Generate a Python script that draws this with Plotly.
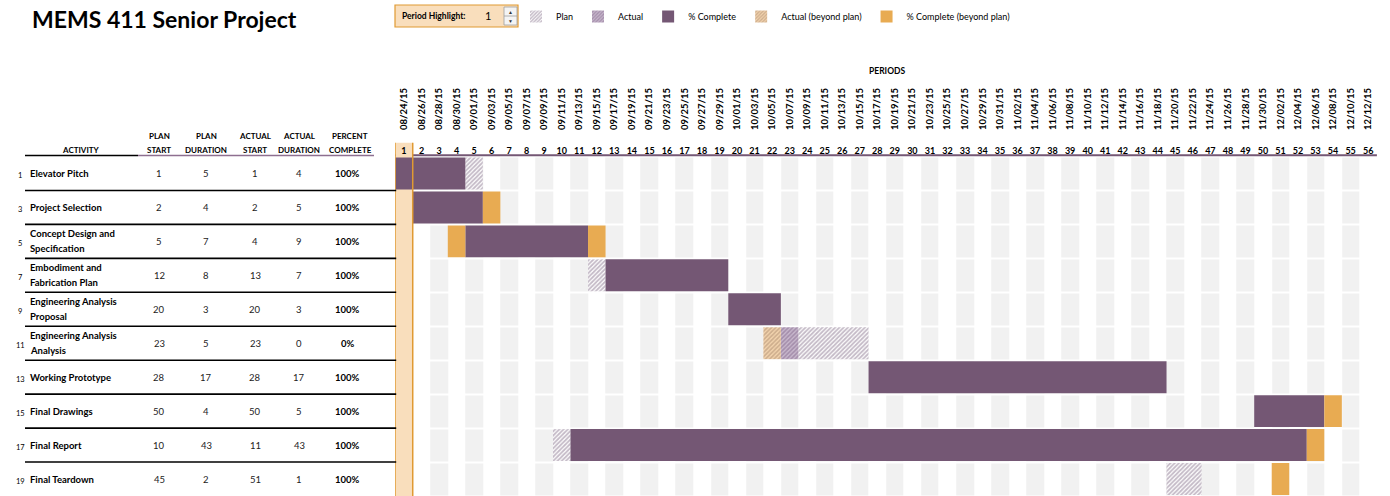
import plotly.graph_objects as go

# ---------------- data ----------------
activities = ["Elevator Pitch", "Project Selection", "Concept Design and<br>Specification",
              "Embodiment and<br>Fabrication Plan", "Engineering Analysis<br>Proposal",
              "Engineering Analysis<br>Analysis", "Working Prototype", "Final Drawings",
              "Final Report", "Final Teardown"]
row_numbers = [1, 3, 5, 7, 9, 11, 13, 15, 17, 19]
plan_start = [1, 2, 5, 12, 20, 23, 28, 50, 10, 45]
plan_duration = [5, 4, 7, 8, 3, 5, 17, 4, 43, 2]
actual_start = [1, 2, 4, 13, 20, 23, 28, 50, 11, 51]
actual_duration = [4, 5, 9, 7, 3, 0, 17, 5, 43, 1]
percent_complete = [100, 100, 100, 100, 100, 0, 100, 100, 100, 100]

periods = list(range(1, 57))
period_dates = ["08/24/15", "08/26/15", "08/28/15", "08/30/15", "09/01/15", "09/03/15", "09/05/15",
                "09/07/15", "09/09/15", "09/11/15", "09/13/15", "09/15/15", "09/17/15", "09/19/15",
                "09/21/15", "09/23/15", "09/25/15", "09/27/15", "09/29/15", "10/01/15", "10/03/15",
                "10/05/15", "10/07/15", "10/09/15", "10/11/15", "10/13/15", "10/15/15", "10/17/15",
                "10/19/15", "10/21/15", "10/23/15", "10/25/15", "10/27/15", "10/29/15", "10/31/15",
                "11/02/15", "11/04/15", "11/06/15", "11/08/15", "11/10/15", "11/12/15", "11/14/15",
                "11/16/15", "11/18/15", "11/20/15", "11/22/15", "11/24/15", "11/26/15", "11/28/15",
                "11/30/15", "12/02/15", "12/04/15", "12/06/15", "12/08/15", "12/10/15", "12/12/15"]
highlight_period = 1

# visible bar segments per legend category: (row, first period, number of periods)
plan_rows = [0, 3, 5, 8, 9]
plan_from = [5, 12, 24, 10, 45]
plan_len = [1, 1, 4, 1, 2]

actual_rows = [5]
actual_from = [23]
actual_len = [1]

complete_rows = [0, 1, 2, 3, 4, 6, 7, 8]
complete_from = [1, 2, 5, 13, 20, 28, 50, 11]
complete_len = [4, 4, 7, 7, 3, 17, 4, 42]

actual_beyond_rows = [5]
actual_beyond_from = [22]
actual_beyond_len = [1]

complete_beyond_rows = [1, 2, 2, 7, 8, 9]
complete_beyond_from = [6, 4, 12, 54, 53, 51]
complete_beyond_len = [1, 1, 1, 1, 1, 1]

# ---------------- styling ----------------
W, H = 1390, 496
FONT = "Lato"
PURPLE = "#745774"
ORANGE = "#E8AB52"
TAN = "#F9DEBC"
ORANGE_LINE = "#E09A32"
GREY = "#F1F1F1"


def px(x):
    return x / W


def py(y):
    return 1 - y / H


GANTT_X0, GANTT_X1 = 395.2, 1376.9
ROWS_TOP = 156.5

fig = go.Figure()

# background stripes (odd periods shaded), highlight column left transparent
z = []
for r in range(len(activities)):
    z.append([None if p == highlight_period else (1 if p % 2 == 1 else 0) for p in periods])
fig.add_trace(go.Heatmap(
    z=z, x=periods, y=list(range(len(activities))),
    colorscale=[[0, "white"], [1, GREY]], zmin=0, zmax=1,
    showscale=False, ygap=2, hoverinfo="skip", showlegend=False))


def add_bars(name, rows, starts, lens, color, pattern=None):
    marker = dict(color=color, line=dict(width=0))
    if pattern:
        marker["pattern"] = pattern
    fig.add_trace(go.Bar(
        name=name, orientation="h", y=rows, x=lens,
        base=[s - 0.5 for s in starts], width=0.94, marker=marker,
        hoverinfo="skip"))


add_bars("Plan", plan_rows, plan_from, plan_len, "white",
         dict(shape="/", fgcolor="#8A768F", bgcolor="white", size=3, solidity=0.6))
add_bars("Actual", actual_rows, actual_from, actual_len, "#C6B5CA",
         dict(shape="/", fgcolor="#80638A", bgcolor="#C9B9CD", size=3, solidity=0.55))
add_bars("% Complete", complete_rows, complete_from, complete_len, PURPLE)
add_bars("Actual (beyond plan)", actual_beyond_rows, actual_beyond_from, actual_beyond_len, "#F2D2AC",
         dict(shape="/", fgcolor="#A8866C", bgcolor="#F3D4AE", size=3, solidity=0.55))
add_bars("% Complete (beyond plan)", complete_beyond_rows, complete_beyond_from, complete_beyond_len, ORANGE)

# invisible trace to carry the date axis
fig.add_trace(go.Scatter(x=[1], y=[0], xaxis="x2", yaxis="y", mode="markers",
                         marker=dict(opacity=0), showlegend=False, hoverinfo="skip"))

shapes = []
# header underline (gantt part) and table header underline
shapes.append(dict(type="line", xref="paper", yref="paper", x0=px(GANTT_X0), x1=px(GANTT_X1),
                    y0=py(155.3), y1=py(155.3), line=dict(color=PURPLE, width=2), layer="below"))
shapes.append(dict(type="line", xref="paper", yref="paper", x0=px(25), x1=px(138),
                    y0=py(155.5), y1=py(155.5), line=dict(color="black", width=1.5)))
shapes.append(dict(type="line", xref="paper", yref="paper", x0=px(138), x1=px(374),
                    y0=py(155.5), y1=py(155.5), line=dict(color="#8E6F90", width=1.5)))
# highlight column
shapes.append(dict(type="rect", xref="x", yref="paper", x0=highlight_period - 0.5, x1=highlight_period + 0.5,
                   y0=0, y1=py(142.7), fillcolor=TAN, line=dict(width=0), layer="below"))
for xe in (highlight_period - 0.5, highlight_period + 0.5):
    shapes.append(dict(type="line", xref="x", yref="paper", x0=xe, x1=xe, y0=0, y1=py(142.7),
                       line=dict(color=ORANGE_LINE, width=1.5), layer="above"))
# row separators in table
for r in range(len(activities) - 1):
    shapes.append(dict(type="line", xref="paper", yref="y", x0=px(25), x1=px(GANTT_X0 + 1),
                       y0=r + 0.5, y1=r + 0.5, line=dict(color="black", width=1.6)))
# period highlight widget
shapes.append(dict(type="rect", xref="paper", yref="paper", x0=px(395), x1=px(518), y0=py(27), y1=py(5),
                   fillcolor=TAN, line=dict(color=ORANGE_LINE, width=1.2)))
shapes.append(dict(type="rect", xref="paper", yref="paper", x0=px(504), x1=px(517), y0=py(25), y1=py(7),
                   fillcolor="#F4F4F4", line=dict(color="#A0A0A0", width=0.8)))
shapes.append(dict(type="line", xref="paper", yref="paper", x0=px(504), x1=px(517), y0=py(16), y1=py(16),
                   line=dict(color="#A0A0A0", width=0.8)))

ann = []
ann.append(dict(text="<b>MEMS 411 Senior Project</b>", xref="paper", yref="paper", x=px(30), y=py(19),
                xanchor="left", yanchor="middle", showarrow=False, font=dict(family=FONT, size=23, color="black")))
ann.append(dict(text="<b>Period Highlight:</b>", xref="paper", yref="paper", x=px(400), y=py(16.5),
                xanchor="left", yanchor="middle", showarrow=False, font=dict(family=FONT, size=8.5, color="black")))
ann.append(dict(text=str(highlight_period), xref="paper", yref="paper", x=px(488), y=py(16),
                xanchor="center", yanchor="middle", showarrow=False, font=dict(family=FONT, size=11, color="black")))
ann.append(dict(text="▲", xref="paper", yref="paper", x=px(510.5), y=py(11.5),
                xanchor="center", yanchor="middle", showarrow=False, font=dict(family=FONT, size=5, color="#333")))
ann.append(dict(text="▼", xref="paper", yref="paper", x=px(510.5), y=py(20.5),
                xanchor="center", yanchor="middle", showarrow=False, font=dict(family=FONT, size=5, color="#333")))
ann.append(dict(text="<b>PERIODS</b>", xref="paper", yref="paper", x=px(887), y=py(71),
                xanchor="center", yanchor="middle", showarrow=False, font=dict(family=FONT, size=8.5, color="black")))

# table header
hdr = [("ACTIVITY", 81, [None, "ACTIVITY"]), ("", 159, ["PLAN", "START"]), ("", 206, ["PLAN", "DURATION"]),
       ("", 255, ["ACTUAL", "START"]), ("", 299, ["ACTUAL", "DURATION"]), ("", 350, ["PERCENT", "COMPLETE"])]
for _, xc, lines in hdr:
    for yy, t in zip((136, 149.5), lines):
        if t:
            ann.append(dict(text=f"<b>{t}</b>", xref="paper", yref="paper", x=px(xc), y=py(yy),
                            xanchor="center", yanchor="middle", showarrow=False,
                            font=dict(family=FONT, size=8, color="black")))

cols = [(159, plan_start, False), (206, plan_duration, False), (255, actual_start, False),
        (299, actual_duration, False)]
for r, name in enumerate(activities):
    ann.append(dict(text=str(row_numbers[r]), xref="paper", yref="y", x=px(20), y=r, yshift=-2,
                    xanchor="center", yanchor="middle", showarrow=False,
                    font=dict(family=FONT, size=7.5, color="black")))
    parts = name.split("<br>")
    if len(parts) == 1:
        offs = [0]
    else:
        offs = [7.5, -7.5]
    for t, o in zip(parts, offs):
        ann.append(dict(text=f"<b>{t}</b>", xref="paper", yref="y", x=px(27.5), y=r, yshift=o,
                        xanchor="left", yanchor="middle", showarrow=False,
                        font=dict(family=FONT, size=9.5, color="black")))
    for xc, vals, _ in cols:
        ann.append(dict(text=str(vals[r]), xref="paper", yref="y", x=px(xc), y=r,
                        xanchor="center", yanchor="middle", showarrow=False,
                        font=dict(family=FONT, size=9.5, color="#222")))
    ann.append(dict(text=f"<b>{percent_complete[r]}%</b>", xref="paper", yref="y", x=px(348), y=r,
                    xanchor="center", yanchor="middle", showarrow=False,
                    font=dict(family=FONT, size=9.5, color="black")))

fig.update_layout(
    width=W, height=H, margin=dict(l=0, r=0, t=0, b=0),
    paper_bgcolor="white", plot_bgcolor="white",
    barmode="overlay",
    font=dict(family=FONT, color="black"),
    xaxis=dict(domain=[px(GANTT_X0), px(GANTT_X1)], range=[0.5, 56.5], side="top",
               tickmode="array", tickvals=periods, ticktext=[str(p) for p in periods],
               tickfont=dict(family=FONT, size=9, color="black", weight="bold"),
               showgrid=False, zeroline=False, showline=False, ticks="", fixedrange=True),
    xaxis2=dict(overlaying="x", anchor="free", position=py(130), side="top", range=[0.5, 56.5],
                tickmode="array", tickvals=periods, ticktext=period_dates, tickangle=-90,
                tickfont=dict(family=FONT, size=9.5, color="black", weight="bold"),
                showgrid=False, zeroline=False, showline=False, ticks=""),
    yaxis=dict(domain=[0, py(ROWS_TOP)], range=[9.5, -0.5], visible=False, fixedrange=True),
    legend=dict(orientation="h", x=px(516), y=py(16.5), xanchor="left", yanchor="middle",
                font=dict(family=FONT, size=9, color="black"), bgcolor="rgba(0,0,0,0)",
                itemwidth=30, traceorder="normal"),
    shapes=shapes, annotations=ann,
)

fig.write_html("out.html", config={"displayModeBar": False},
               post_script="document.body.style.margin='0px';document.body.style.overflow='hidden';")
